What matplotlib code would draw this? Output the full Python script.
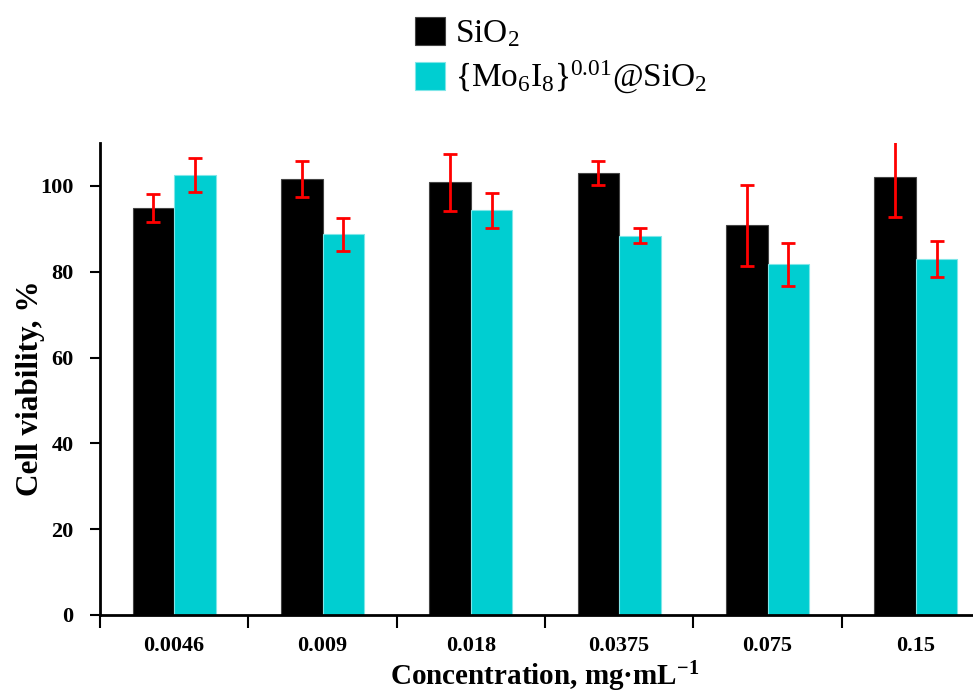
import matplotlib
matplotlib.use('Agg')
import matplotlib.pyplot as plt
import numpy as np

plt.rcParams['font.family'] = ['Liberation Serif', 'DejaVu Serif']
plt.rcParams['mathtext.fontset'] = 'custom'
plt.rcParams['mathtext.rm'] = 'Liberation Serif'
plt.rcParams['mathtext.it'] = 'Liberation Serif:italic'
plt.rcParams['mathtext.bf'] = 'Liberation Serif:bold'

# Data
concentrations = ['0.0046', '0.009', '0.018', '0.0375', '0.075', '0.15']
sio2 = [94.8, 101.6, 100.8, 103.0, 90.8, 102.0]
sio2_err = [3.2, 4.2, 6.6, 2.8, 9.4, 9.2]
mo6 = [102.5, 88.7, 94.3, 88.4, 81.7, 82.9]
mo6_err = [3.9, 3.9, 4.1, 1.7, 5.0, 4.2]

fig = plt.figure(figsize=(9.73, 6.93), dpi=100)
ax = fig.add_axes([100 / 973, 78 / 693, 890 / 973, 472 / 693])

x = np.arange(len(concentrations))
w = 0.28
err_style = dict(ecolor='red', elinewidth=2, capsize=5, capthick=2)

b1 = ax.bar(x - w / 2, sio2, w, color='black', edgecolor='#444444', linewidth=0.8,
            yerr=sio2_err, error_kw=err_style, label='SiO$_2$')
b2 = ax.bar(x + w / 2, mo6, w, color='#00CED1', edgecolor='#7fe6e8', linewidth=0.8,
            yerr=mo6_err, error_kw=err_style, label='{Mo$_6$I$_8$}$^{0.01}$@SiO$_2$')

ax.set_xlim(-0.5, len(concentrations) - 0.5)
ax.set_ylim(0, 110)
ax.set_yticks(range(0, 101, 20))
ax.set_xticks(x)
ax.set_xticklabels(concentrations)
ax.set_xticks(np.arange(-0.5, len(concentrations) - 0.5, 1), minor=True)
ax.tick_params(axis='x', which='major', length=0, pad=15)
ax.tick_params(axis='x', which='minor', length=9, width=1.5, direction='out')
ax.tick_params(axis='y', length=7, width=1.5, direction='out', pad=12)
for lab in ax.get_xticklabels() + ax.get_yticklabels():
    lab.set_fontweight('bold')
    lab.set_fontsize(16)

for s in ['top', 'right']:
    ax.spines[s].set_visible(False)
for s in ['left', 'bottom']:
    ax.spines[s].set_linewidth(2)

ax.set_ylabel('Cell viability, %', fontsize=22.5, fontweight='bold')
ax.yaxis.set_label_coords(-0.062, 0.481)
ax.set_xlabel(r'Concentration, mg·mL$^{\mathbf{-1}}$', fontsize=21,
              fontweight='bold', labelpad=3)

fig.legend(handles=[b1, b2], loc='upper left',
           bbox_to_anchor=(385 / 973, 1 + 13 / 693),
           frameon=False, fontsize=24, handlelength=0.9, handleheight=0.9,
           handletextpad=0.3, labelspacing=0.3)

fig.savefig('out.png', dpi=100)
